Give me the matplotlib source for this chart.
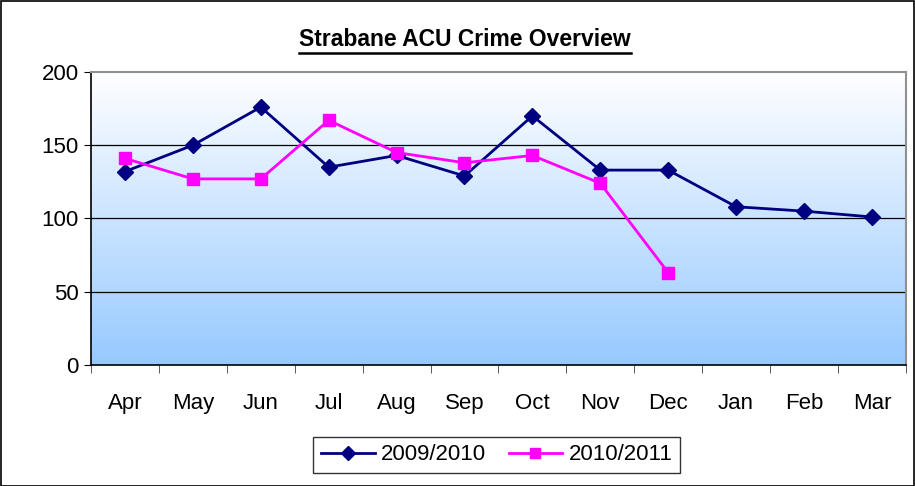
"""Strabane ACU crime overview — monthly totals, 2009/10 vs 2010/11."""
import matplotlib
matplotlib.use("Agg")
import matplotlib.pyplot as plt
import numpy as np
from matplotlib.lines import Line2D

months = ["Apr", "May", "Jun", "Jul", "Aug", "Sep", "Oct", "Nov", "Dec", "Jan", "Feb", "Mar"]
crimes_0910 = [132, 150, 176, 135, 143, 129, 170, 133, 133, 108, 105, 101]
crimes_1011 = [141, 127, 127, 167, 145, 138, 143, 124, 63]
y_ticks = [0, 50, 100, 150, 200]

plt.rcParams["font.family"] = ["Liberation Sans", "DejaVu Sans"]

fig = plt.figure(figsize=(9.15, 4.86), dpi=100)
ax = fig.add_axes([0.0995, 0.249, 0.8905, 0.603])

# gradient plot-area fill: white at top -> light blue at bottom
grad = np.linspace(0, 1, 256)[:, None]
top = np.array([1.0, 1.0, 1.0])
bot = np.array([0.59, 0.79, 1.0])
img = top[None, None, :] * (1 - grad[..., None]) + bot[None, None, :] * grad[..., None]
ax.imshow(img, extent=[0, 1, 0, 1], transform=ax.transAxes, aspect="auto", zorder=0)

x = np.arange(len(months))
ax.plot(x, crimes_0910, color="#000080", lw=2, marker="D", ms=8.5,
        label="2009/2010", zorder=3)
ax.plot(np.arange(len(crimes_1011)), crimes_1011, color="#FF00FF", lw=2, marker="s", ms=8.5,
        label="2010/2011", zorder=4)

ax.set_xlim(-0.5, len(months) - 0.5)
ax.set_ylim(0, 200)
ax.set_yticks(y_ticks)
ax.set_xticks(x)
ax.set_xticklabels(months)
ax.set_xticks(np.arange(-0.5, len(months)), minor=True)
ax.tick_params(axis="x", which="major", length=0, pad=20, labelsize=16)
ax.tick_params(axis="x", which="minor", length=6, direction="out", color="#404040")
ax.tick_params(axis="y", length=5, direction="out", labelsize=16, pad=4)

for yv in y_ticks[1:-1]:
    ax.axhline(yv, color="black", lw=0.9, zorder=1)

ax.spines["top"].set_color("#909090")
ax.spines["right"].set_color("#909090")
ax.spines["top"].set_linewidth(1.5)
ax.spines["right"].set_linewidth(1.5)
ax.spines["left"].set_linewidth(1.2)
ax.spines["bottom"].set_linewidth(1.2)

leg = fig.legend(loc="center", bbox_to_anchor=(0.543, 0.064), ncol=2,
                 fontsize=16, frameon=True, fancybox=False, edgecolor="black",
                 handlelength=2.4, handletextpad=0.3, columnspacing=1.0,
                 borderpad=0.35, markerscale=0.8)
leg.get_frame().set_linewidth(1.0)

title = fig.text(0.508, 0.918, "Strabane ACU Crime Overview", ha="center", va="center",
                 fontsize=16.5, fontweight="bold")

# underline the title
fig.canvas.draw()
bb = title.get_window_extent().transformed(fig.transFigure.inverted())
fig.add_artist(Line2D([bb.x0, bb.x1], [bb.y0 - 0.004, bb.y0 - 0.004],
                      transform=fig.transFigure, color="black", lw=1.8))

# outer chart-area border
fig.add_artist(plt.Rectangle((0.001, 0.001), 0.998, 0.997, transform=fig.transFigure,
                             fill=False, edgecolor="black", lw=1.2))

fig.savefig("out.png", dpi=100)
